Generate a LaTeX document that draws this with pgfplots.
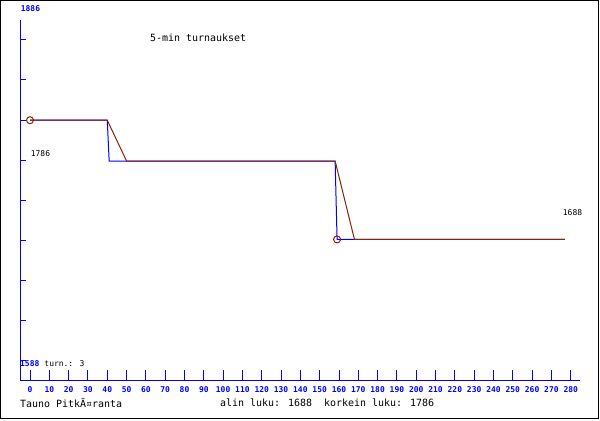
\documentclass[border=0pt]{standalone}
\usepackage{pgfplots}
\pgfplotsset{compat=1.18}
\usepackage{fontspec}
\setmainfont{DejaVu Sans Mono}
\definecolor{brn}{RGB}{136,34,0}
\definecolor{axblue}{RGB}{0,0,255}
\begin{document}
\begin{tikzpicture}[x=1bp,y=1bp]
\path[use as bounding box] (0,0) rectangle (600,420);
\fill[white] (0,0) rectangle (600,420);
\draw[black, line width=1bp] (0.5,1.5) rectangle (598.5,419.5);
\begin{axis}[
  at={(20bp,40bp)}, anchor=south west,
  scale only axis, width=560bp, height=360bp,
  xmin=-5.18, xmax=284.8, ymin=1512.25, ymax=1962.25,
  axis lines=left, axis line style={-, axblue, line width=1bp},
  xtick={0,10,...,280},
  ytick={1537.25,1587.25,1637.25,1687.25,1737.25,1787.25,1837.25,1887.25,1937.25},
  yticklabels={},
  tick align=inside,
  tick style={axblue, line width=1bp},
  xtick style={/pgfplots/major tick length=10bp},
  ytick style={/pgfplots/major tick length=6bp},
  xticklabel style={font=\bfseries\fontsize{8}{9}\selectfont, text=axblue, inner sep=0pt, yshift=-6bp},
  /pgf/number format/assume math mode=true,
  clip=false,
]
\addplot[axblue, line width=1bp] coordinates {(0,1837)(40,1837)(41,1786)(158,1786)(159,1688)(277,1688)};
\addplot[brn, line width=1bp] coordinates {(0,1837)(40,1837)(50,1786)(158,1786)(168,1688)(277,1688)};
\addplot[brn, only marks, mark=o, mark size=3.5bp, mark options={line width=1bp}] coordinates {(0,1837)(159,1688)};
\end{axis}
\node[anchor=west, inner sep=0pt, font=\fontsize{10}{12}\selectfont] at (150,382.5) {5-min turnaukset};
\node[anchor=west, inner sep=0pt, font=\fontsize{10}{12}\selectfont] at (20,17) {Tauno PitkÃ¤ranta};
\node[anchor=west, inner sep=0pt, font=\fontsize{10}{12}\selectfont] at (220,17) {alin luku: 1688\ \ korkein luku: 1786};
\node[anchor=west, inner sep=0pt, font=\fontsize{8}{9}\selectfont] at (30.7,266.5) {1786};
\node[anchor=west, inner sep=0pt, font=\fontsize{8}{9}\selectfont] at (562.7,207.3) {1688};
\node[anchor=west, inner sep=0pt, font=\fontsize{8}{9}\selectfont] at (44.3,56.5) {turn.: 3};
\node[anchor=west, inner sep=0pt, text=axblue, font=\bfseries\fontsize{8}{9}\selectfont] at (20,56.5) {1588};
\node[anchor=west, inner sep=0pt, text=axblue, font=\bfseries\fontsize{8}{9}\selectfont] at (20.7,411.3) {1886};
\end{tikzpicture}
\end{document}
